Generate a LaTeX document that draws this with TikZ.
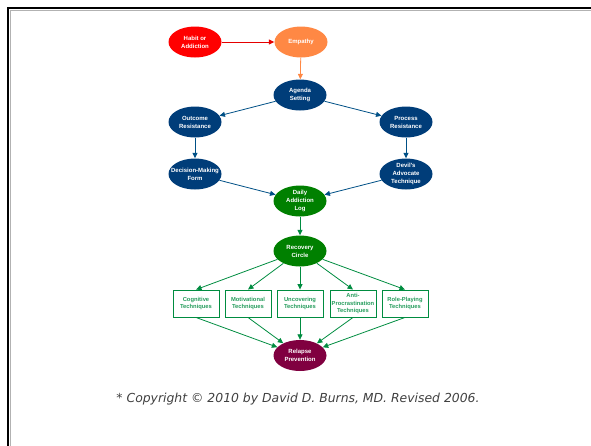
\documentclass[tikz,border=0pt]{standalone}
\usepackage{fontspec}
\usepackage{tikz}
\usetikzlibrary{arrows.meta, positioning, shapes.geometric}
\newfontfamily\nodefont{Liberation Sans}
\newfontfamily\copyfont{DejaVu Sans}
\definecolor{habitred}{RGB}{255,0,0}
\definecolor{empathyorange}{RGB}{255,136,68}
\definecolor{deepblue}{RGB}{0,61,121}
\definecolor{logreen}{RGB}{0,128,0}
\definecolor{techgreen}{RGB}{0,140,64}
\definecolor{relapsemaroon}{RGB}{128,0,64}

\begin{document}
\begin{tikzpicture}[x=1pt, y=-1pt,
    blob/.style={ellipse, minimum width=53pt, minimum height=31pt, inner sep=-7pt, text=white, align=center, font=\nodefont\fontsize{6}{8}\selectfont\bfseries},
    techbox/.style={draw=techgreen, line width=0.9pt, fill=white, minimum width=46pt, minimum height=27pt, inner sep=0pt, text=techgreen!85!white, align=center, font=\nodefont\fontsize{5.8}{7.5}\selectfont\bfseries},
    link/.style={line width=0.8pt, -{Triangle[length=5.5pt, width=5pt]}}
]
    \useasboundingbox (0,0) rectangle (591,445);

    % Slide frame
    \draw[gray!60, line width=1pt] (10,446) |- (592,10);
    \draw[line width=2pt] (8,446) |- (592,8);

    % Top row
    \node[blob, fill=habitred] (habit) at (195,42) {Habit or\\Addiction};
    \node[blob, fill=empathyorange] (empathy) at (301,42) {Empathy};

    % Blue hexagon
    \node[blob, fill=deepblue] (agenda) at (300,95) {Agenda\\Setting};
    \node[blob, fill=deepblue] (outres) at (195,122) {Outcome\\Resistance};
    \node[blob, fill=deepblue] (procres) at (406,122) {Process\\Resistance};
    \node[blob, fill=deepblue] (dmf) at (195,174) {Decision-Making\\Form};
    \node[blob, fill=deepblue] (devil) at (406,174) {Devil's\\Advocate\\Technique};
    \node[blob, fill=logreen] (dlog) at (300,201) {Daily\\Addiction\\Log};

    % Recovery and techniques
    \node[blob, fill=logreen] (recov) at (300,251) {Recovery\\Circle};
    \node[techbox] (cog) at (196,303.5) {Cognitive\\Techniques};
    \node[techbox] (motiv) at (248,303.5) {Motivational\\Techniques};
    \node[techbox] (uncov) at (300,303.5) {Uncovering\\Techniques};
    \node[techbox] (anti) at (353,303.5) {Anti-\\Procrastination\\Techniques};
    \node[techbox] (role) at (405,303.5) {Role-Playing\\Techniques};
    \node[blob, fill=relapsemaroon] (relapse) at (300,355.5) {Relapse\\Prevention};

    % Connectors
    \draw[link, habitred!90!black] (habit) -- (empathy);
    \draw[link, empathyorange] (empathy) -- (agenda);
    \draw[link, deepblue!90!cyan] (agenda) -- (outres);
    \draw[link, deepblue!90!cyan] (agenda) -- (procres);
    \draw[link, deepblue!90!cyan] (outres) -- (dmf);
    \draw[link, deepblue!90!cyan] (procres) -- (devil);
    \draw[link, deepblue!90!cyan] (dmf) -- (dlog);
    \draw[link, deepblue!90!cyan] (devil) -- (dlog);
    \draw[link, techgreen] (dlog) -- (recov);
    \foreach \t in {cog, motiv, uncov, anti, role} {
        \draw[link, techgreen] (recov) -- (\t.north);
        \draw[link, techgreen] (\t.south) -- (relapse);
    }

    % Footer
    \node[font=\copyfont\fontsize{12.4}{14}\selectfont\itshape, text=black!75] (copy) at (298,399) {* Copyright \textcopyright{} 2010 by David D. Burns, MD. Revised 2006.};
\end{tikzpicture}
\end{document}
